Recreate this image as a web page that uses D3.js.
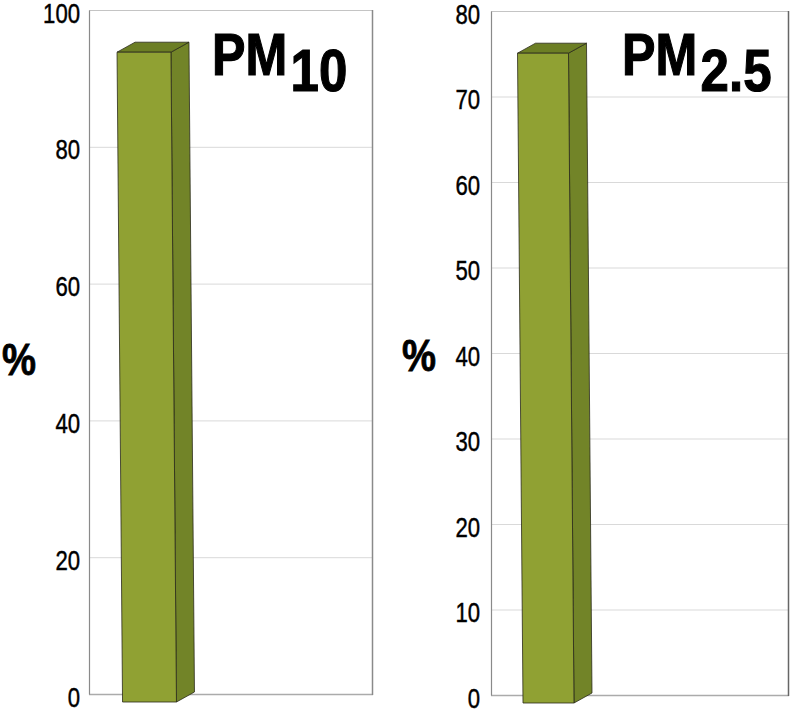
<!DOCTYPE html>
<html><head><meta charset="utf-8">
<script src="https://cdn.jsdelivr.net/npm/d3@7"></script>
<style>
body{margin:0;background:#fff;}
text{font-family:"Liberation Sans",Arial,sans-serif;}
</style></head>
<body><svg id="c" width="791" height="711"></svg>
<script>
// ---- data ----
const categories = ["PM10", "PM2.5"];
const titleMain = ["PM", "PM"];
const titleSub = ["10", "2.5"];
const values = [95, 76];
const axisMax = [100, 80];
const ticks1 = [0, 20, 40, 60, 80, 100];
const ticks2 = [0, 10, 20, 30, 40, 50, 60, 70, 80];
const yLabel = "%";

// ---- layout ----
const panels = [
  {left: 89, right: 373, top: 10, bottom: 694, ticks: ticks1, bandRange: 110, pad: 9, pctX: 19, pctY: 375, titleX: 212, titleY: 75, rightStroke: "#8a8a8a"},
  {left: 491, right: 789, top: 11, bottom: 695, ticks: ticks2, bandRange: 104, pad: 11, pctX: 419, pctY: 371, titleX: 622, titleY: 75, rightStroke: "#666"}
];
const depthX = 18, depthY = -10, frontDrop = 8, lean = 5.5;
const sx = 0.82; // horizontal condensing of text

const svg = d3.select("#c");

panels.forEach((p, i) => {
  const g = svg.append("g");
  const y = d3.scaleLinear().domain([0, axisMax[i]]).range([p.bottom, p.top]);
  const x = d3.scaleBand().domain([categories[i]]).range([p.left, p.left + p.bandRange]).paddingOuter(0.52);

  // gridlines
  g.selectAll("line.grid").data(p.ticks.filter(t => t > 0 && t < axisMax[i])).enter()
    .append("line").attr("x1", p.left).attr("x2", p.right)
    .attr("y1", d => y(d) + 0.5).attr("y2", d => y(d) + 0.5)
    .attr("stroke", "#d9d9d9").attr("stroke-width", 1);

  // frame
  g.append("line").attr("x1", p.left).attr("x2", p.right).attr("y1", p.top + 0.5).attr("y2", p.top + 0.5).attr("stroke", "#c4c4c4");
  g.append("line").attr("x1", p.left).attr("x2", p.right).attr("y1", p.bottom + 0.5).attr("y2", p.bottom + 0.5).attr("stroke", "#ababab").attr("stroke-width", 1.5);
  g.append("line").attr("x1", p.right - 0.5).attr("x2", p.right - 0.5).attr("y1", p.top).attr("y2", p.bottom + 1).attr("stroke", p.rightStroke).attr("stroke-width", 1.5);

  // y axis
  const axis = d3.axisLeft(y).tickValues(p.ticks).tickSize(0).tickPadding(p.pad).tickFormat(d3.format("d"));
  const ag = g.append("g").attr("transform", `translate(${p.left},0)`).call(axis);
  ag.select(".domain").attr("stroke", "#8a8a8a").attr("stroke-width", 1.2);
  ag.selectAll("text").attr("font-size", 27).attr("fill", "#000")
    .attr("stroke", "#000").attr("stroke-width", 0.45)
    .attr("dy", 12).attr("x", -p.pad / sx)
    .attr("transform", `scale(${sx},1)`)
    .style("font-family", '"Liberation Sans",Arial,sans-serif');

  // 3D bar
  const v = values[i];
  const x0 = x(categories[i]), bw = x.bandwidth();
  const ft = y(v) + frontDrop, fb = y(0) + frontDrop;
  const front = [[x0, ft], [x0 + bw, ft], [x0 + bw + lean, fb], [x0 + lean, fb]];
  const side = [[x0 + bw, ft], [x0 + bw + depthX, ft + depthY], [x0 + bw + lean + depthX, fb + depthY], [x0 + bw + lean, fb]];
  const top = [[x0, ft], [x0 + depthX, ft + depthY], [x0 + bw + depthX, ft + depthY], [x0 + bw, ft]];
  const line = d3.line();
  g.append("path").attr("d", line(side) + "Z").attr("fill", "#728428").attr("stroke", "#2a2a1a").attr("stroke-width", 0.8);
  g.append("path").attr("d", line(top) + "Z").attr("fill", "#6c7e24").attr("stroke", "#2a2a1a").attr("stroke-width", 0.8);
  g.append("path").attr("d", line(front) + "Z").attr("fill", "#90a133").attr("stroke", "#2a2a1a").attr("stroke-width", 0.8);

  // title
  const tg = g.append("g").attr("transform", `translate(${p.titleX},${p.titleY}) scale(0.85,1)`);
  const t = tg.append("text").attr("x", 0).attr("y", 0)
    .attr("font-size", 59).attr("font-weight", "bold").attr("fill", "#000")
    .attr("stroke", "#000").attr("stroke-width", 1.2);
  t.append("tspan").text(titleMain[i]);
  t.append("tspan").attr("dx", 4).attr("dy", 16).attr("font-size", 60).text(titleSub[i]);

  // y label
  g.append("g").attr("transform", `translate(${p.pctX},${p.pctY}) scale(0.85,1)`)
    .append("text").attr("x", 0).attr("y", 0).attr("text-anchor", "middle")
    .attr("font-size", 45).attr("font-weight", "bold").attr("fill", "#000")
    .attr("stroke", "#000").attr("stroke-width", 0.8).text(yLabel);
});
</script></body></html>
